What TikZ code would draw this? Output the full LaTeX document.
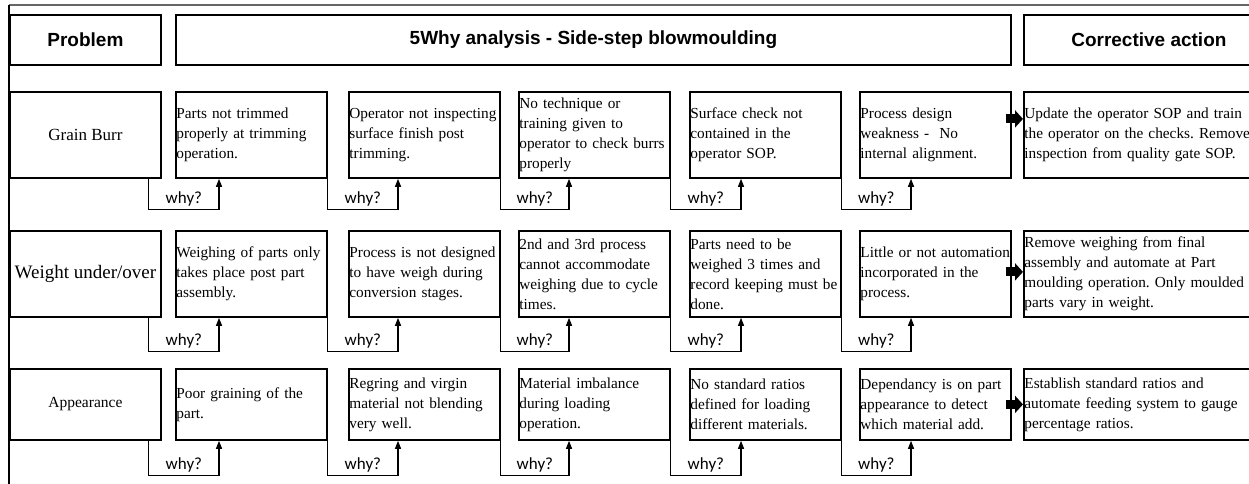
\documentclass[tikz,border=0pt]{standalone}
\usepackage{fontspec}
\setmainfont{Liberation Serif}
\newfontfamily\headfont{Liberation Sans}
\newfontfamily\whyfont{Carlito}
\usetikzlibrary{arrows.meta}
\frenchspacing

\begin{document}
\begin{tikzpicture}[x=1pt, y=1pt, line join=miter,
    head/.style={draw, line width=1.8pt, anchor=north west, minimum height=50pt, font=\headfont\bfseries\fontsize{19}{23}\selectfont},
    prob/.style={draw, line width=1.8pt, anchor=north west, minimum width=151pt, font=\fontsize{15.5}{20}\selectfont},
    cause/.style={draw, line width=1.8pt, anchor=north west, inner sep=0.5pt, minimum width=151pt, text width=150pt, align=left, font=\fontsize{15.3}{20}\selectfont},
    action/.style={cause, minimum width=250pt, text width=249pt},
    whyline/.style={line width=1.2pt, -{Triangle[length=8pt, width=6pt]}},
    whylab/.style={above, inner sep=2.5pt, font=\whyfont\fontsize{17}{19}\selectfont},
    fix/.style={line width=9pt, shorten <=-6pt, -{Triangle[length=8pt, width=17pt]}}]

    \useasboundingbox (0,0) rectangle (1249,-484);
    \clip (0,0) rectangle (1249,-484);

    \draw[black!60, line width=2pt] (9,-5) -- (1260,-5);
    \draw[line width=2pt] (9,-5) -- (9,-490);

    \node[head, minimum width=151pt] (hp) at (9,-14) {Problem};
    \node[head, minimum width=835pt] (hw) at (175,-14) {5Why analysis - Side-step blowmoulding};
    \node[head, minimum width=250pt] (hc) at (1023,-14) {Corrective action};

    \node[prob, minimum height=86pt, font=\fontsize{17}{20}\selectfont] (p1) at (9,-91) {Grain Burr};
    \node[cause, minimum height=86pt] (c11) at (175,-91) {Parts not trimmed\\properly at trimming\\operation.};
    \node[cause, minimum height=86pt] (c12) at (348,-91) {Operator not inspecting\\surface finish post\\trimming.};
    \node[cause, minimum height=86pt] (c13) at (518,-91) {No technique or\\training given to\\operator to check burrs\\properly};
    \node[cause, minimum height=86pt] (c14) at (689,-91) {Surface check not\\contained in the\\operator SOP.};
    \node[cause, minimum height=86pt] (c15) at (859,-91) {Process design\\weakness -\ \ No\\internal alignment.};
    \node[action, minimum height=86pt] (a1) at (1023,-91) {Update the operator SOP and train\\the operator on the checks. Remove\\inspection from quality gate SOP.};

    \node[prob, minimum height=86pt, font=\fontsize{19}{23}\selectfont] (p2) at (9,-230) {Weight under/over};
    \node[cause, minimum height=86pt] (c21) at (175,-230) {Weighing of parts only\\takes place post part\\assembly.};
    \node[cause, minimum height=86pt] (c22) at (348,-230) {Process is not designed\\to have weigh during\\conversion stages.};
    \node[cause, minimum height=86pt] (c23) at (518,-230) {2nd and 3rd process\\cannot accommodate\\weighing due to cycle\\times.};
    \node[cause, minimum height=86pt] (c24) at (689,-230) {Parts need to be\\weighed 3 times and\\record keeping must be\\done.};
    \node[cause, minimum height=86pt] (c25) at (859,-230) {\mbox{Little or not automation}\\incorporated in the\\process.};
    \node[action, minimum height=86pt] (a2) at (1023,-230) {Remove weighing from final\\assembly and automate at Part\\moulding operation. Only moulded\\parts vary in weight.};

    \node[prob, minimum height=71pt] (p3) at (9,-368) {Appearance};
    \node[cause, minimum height=71pt] (c31) at (175,-368) {Poor graining of the\\part.};
    \node[cause, minimum height=71pt] (c32) at (348,-368) {Regring and virgin\\material not blending\\very well.};
    \node[cause, minimum height=71pt] (c33) at (518,-368) {Material imbalance\\during loading\\operation.};
    \node[cause, minimum height=71pt] (c34) at (689,-368) {No standard ratios\\defined for loading\\different materials.};
    \node[cause, minimum height=71pt] (c35) at (859,-368) {Dependancy is on part\\appearance to detect\\which material add.};
    \node[action, minimum height=71pt] (a3) at (1023,-368) {Establish standard ratios and\\automate feeding system to gauge\\percentage ratios.};

    \draw[whyline] ([xshift=-13pt]p1.south east) |- node[whylab, pos=0.75] (w11) {why?} ([xshift=44pt, yshift=-31pt]c11.south west) -- ([xshift=44pt]c11.south west);
    \draw[whyline] (c11.south east) |- node[whylab, pos=0.75] (w12) {why?} ([xshift=50pt, yshift=-31pt]c12.south west) -- ([xshift=50pt]c12.south west);
    \draw[whyline] (c12.south east) |- node[whylab, pos=0.75] (w13) {why?} ([xshift=51pt, yshift=-31pt]c13.south west) -- ([xshift=51pt]c13.south west);
    \draw[whyline] (c13.south east) |- node[whylab, pos=0.75] (w14) {why?} ([xshift=52pt, yshift=-31pt]c14.south west) -- ([xshift=52pt]c14.south west);
    \draw[whyline] (c14.south east) |- node[whylab, pos=0.75] (w15) {why?} ([xshift=52pt, yshift=-31pt]c15.south west) -- ([xshift=52pt]c15.south west);

    \draw[whyline] ([xshift=-13pt]p2.south east) |- node[whylab, pos=0.75] (w21) {why?} ([xshift=44pt, yshift=-34pt]c21.south west) -- ([xshift=44pt]c21.south west);
    \draw[whyline] (c21.south east) |- node[whylab, pos=0.75] (w22) {why?} ([xshift=50pt, yshift=-34pt]c22.south west) -- ([xshift=50pt]c22.south west);
    \draw[whyline] (c22.south east) |- node[whylab, pos=0.75] (w23) {why?} ([xshift=51pt, yshift=-34pt]c23.south west) -- ([xshift=51pt]c23.south west);
    \draw[whyline] (c23.south east) |- node[whylab, pos=0.75] (w24) {why?} ([xshift=52pt, yshift=-34pt]c24.south west) -- ([xshift=52pt]c24.south west);
    \draw[whyline] (c24.south east) |- node[whylab, pos=0.75] (w25) {why?} ([xshift=52pt, yshift=-34pt]c25.south west) -- ([xshift=52pt]c25.south west);

    \draw[whyline] ([xshift=-13pt]p3.south east) |- node[whylab, pos=0.75] (w31) {why?} ([xshift=44pt, yshift=-35pt]c31.south west) -- ([xshift=44pt]c31.south west);
    \draw[whyline] (c31.south east) |- node[whylab, pos=0.75] (w32) {why?} ([xshift=50pt, yshift=-35pt]c32.south west) -- ([xshift=50pt]c32.south west);
    \draw[whyline] (c32.south east) |- node[whylab, pos=0.75] (w33) {why?} ([xshift=51pt, yshift=-35pt]c33.south west) -- ([xshift=51pt]c33.south west);
    \draw[whyline] (c33.south east) |- node[whylab, pos=0.75] (w34) {why?} ([xshift=52pt, yshift=-35pt]c34.south west) -- ([xshift=52pt]c34.south west);
    \draw[whyline] (c34.south east) |- node[whylab, pos=0.75] (w35) {why?} ([xshift=52pt, yshift=-35pt]c35.south west) -- ([xshift=52pt]c35.south west);

    \draw[fix] ([yshift=16pt]c15.east) -- ([yshift=16pt]a1.west);
    \draw[fix] ([yshift=2pt]c25.east) -- ([yshift=2pt]a2.west);
    \draw[fix] (c35.east) -- (a3.west);
\end{tikzpicture}
\end{document}
